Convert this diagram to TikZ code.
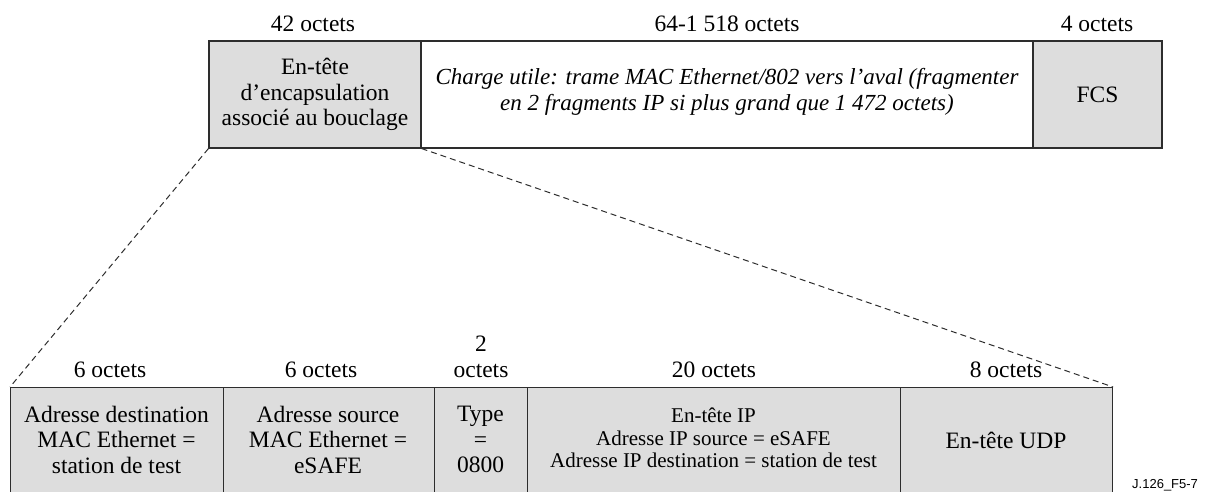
\documentclass[tikz,border=0pt]{standalone}
\usepackage{fontspec}
\setmainfont{Liberation Serif}
\newfontfamily\figsans{Liberation Sans}
\definecolor{fieldgray}{RGB}{221,221,221}
\definecolor{edge}{RGB}{45,45,45}
\begin{document}
\begin{tikzpicture}[x=1pt,y=-1pt,
  box/.style={draw=edge, line width=1.1pt, fill=fieldgray, inner sep=0pt},
  txt/.style={inner sep=0pt, align=center, font=\fontsize{23.5}{25.5}\selectfont},
  payload/.style={txt, font=\fontsize{23}{25.5}\selectfont\itshape},
  iptxt/.style={txt, font=\fontsize{21}{22.5}\selectfont},
  size/.style={txt, anchor=base},
  zoomline/.style={draw=edge, line width=1pt, dash pattern=on 6pt off 4pt}]
\useasboundingbox (0,0) rectangle (1208,492);
\clip (0,0) rectangle (1208,492);

% upper frame: encapsulation header, payload, FCS
\node[box, minimum width=212pt, minimum height=107pt] (hdr) at (315,94.5) {};
\node[box, fill=white, minimum width=612pt, minimum height=107pt] (pay) at (727,94.5) {};
\node[box, minimum width=129pt, minimum height=107pt] (fcs) at (1097.5,94.5) {};
\node[txt] (hdrt) at (hdr) {En-tête\\d'encapsulation\\associé au bouclage};
\node[payload] (payt) at (727,92)
  {Charge utile: trame MAC Ethernet/802 vers l'aval (fragmenter\\en 2 fragments IP si plus grand que 1 472 octets)};
\node[txt] (fcst) at (fcs) {FCS};

\node[size] (s1) at (313,32) {42 octets};
\node[size] (s2) at (727,32) {64-1 518 octets};
\node[size] (s3) at (1097,32) {4 octets};

% lower frame: expanded header fields (open at the bottom edge)
\node[box, anchor=north west, minimum width=212.5pt, minimum height=130pt] (dst) at (10,387) {};
\node[box, anchor=north west, minimum width=211.5pt, minimum height=130pt] (src) at (222.5,387) {};
\node[box, anchor=north west, minimum width=93pt, minimum height=130pt] (typ) at (434,387) {};
\node[box, anchor=north west, minimum width=373pt, minimum height=130pt] (ip) at (527,387) {};
\node[box, anchor=north west, minimum width=212pt, minimum height=130pt] (udp) at (900,387) {};

\node[txt] (dstt) at (116.5,439.5) {Adresse destination\\MAC Ethernet =\\station de test};
\node[txt] (srct) at (328,439.5) {Adresse source\\MAC Ethernet =\\eSAFE};
\node[txt] (typt) at (480.5,439.5) {Type\\=\\0800};
\node[iptxt] (ipt) at (713.5,438) {En-tête IP\\Adresse IP source = eSAFE\\Adresse IP destination = station de test};
\node[txt] (udpt) at (1006,440) {En-tête UDP};

\node[size] (l1) at (110,377) {6 octets};
\node[size] (l2) at (321,377) {6 octets};
\node[size] (l3a) at (481,351.5) {2};
\node[size] (l3b) at (481,377) {octets};
\node[size] (l4) at (714,377) {20 octets};
\node[size] (l5) at (1006,377) {8 octets};

% zoom lines from the header to the expanded fields
\draw[zoomline] (hdr.south west) -- (dst.north west);
\draw[zoomline] (hdr.south east) -- (udp.north east);

\node[font=\figsans\fontsize{13}{15}\selectfont, anchor=base west, inner sep=0pt] (ref) at (1132,488.5) {J.126\_F5-7};
\end{tikzpicture}
\end{document}
